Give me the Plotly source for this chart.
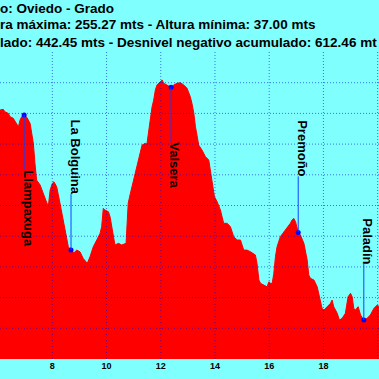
import plotly.graph_objects as go

# ---- data (distance in km, elevation in m) ----
dist_km = [5.95, 6.07, 6.19, 6.25, 6.38, 6.44, 6.56, 6.69, 6.75, 6.81, 6.87, 6.96, 7.06, 7.18,
           7.24, 7.30, 7.36, 7.42, 7.55, 7.67, 7.79, 7.85, 7.92, 8.00, 8.06, 8.16, 8.26, 8.35,
           8.47, 8.59, 8.69, 8.80, 8.90, 9.02, 9.14, 9.29, 9.39, 9.51, 9.64, 9.76, 9.82, 9.88,
           9.94, 10.07, 10.13, 10.25, 10.31, 10.44, 10.56, 10.72, 10.76, 10.80, 10.88, 11.00,
           11.13, 11.25, 11.31, 11.43, 11.49, 11.56, 11.62, 11.68, 11.74, 11.80, 11.86, 11.99,
           12.05, 12.11, 12.23, 12.38, 12.48, 12.60, 12.72, 12.85, 12.97, 13.09, 13.15, 13.22,
           13.28, 13.34, 13.40, 13.52, 13.65, 13.77, 13.83, 13.89, 13.98, 14.08, 14.20, 14.32,
           14.45, 14.57, 14.69, 14.82, 14.94, 15.06, 15.18, 15.31, 15.49, 15.55, 15.62, 15.68,
           15.80, 15.92, 15.99, 16.05, 16.11, 16.17, 16.23, 16.29, 16.41, 16.54, 16.66, 16.78,
           16.84, 16.91, 16.97, 17.07, 17.15, 17.28, 17.40, 17.46, 17.52, 17.65, 17.77, 17.83,
           17.89, 17.95, 18.02, 18.14, 18.26, 18.32, 18.38, 18.51, 18.59, 18.69, 18.81, 18.91,
           19.00, 19.06, 19.12, 19.18, 19.28, 19.37, 19.49, 19.61, 19.73, 19.86, 19.98, 20.06,
           20.20]
elev_m = [228.0, 227.7, 228.3, 226.3, 225.0, 222.3, 221.0, 216.9, 214.1, 219.6, 222.3, 223.7,
          221.8, 216.9, 208.8, 200.6, 184.3, 170.7, 166.7, 159.9, 151.7, 149.0, 162.6, 168.0,
          169.3, 165.3, 154.4, 143.6, 130.0, 116.4, 113.7, 111.5, 113.7, 112.3, 106.9, 102.9,
          108.3, 116.4, 121.9, 127.3, 132.7, 147.7, 146.3, 144.9, 140.8, 124.6, 117.8, 119.2,
          117.8, 119.2, 138.0, 152.0, 159.9, 170.7, 181.6, 192.5, 199.2, 200.6, 200.0, 211.4,
          222.3, 230.4, 235.9, 244.0, 248.1, 250.8, 252.2, 249.5, 248.1, 246.2, 248.1, 249.5,
          250.0, 248.1, 245.4, 238.6, 233.2, 225.0, 214.1, 206.0, 199.2, 195.2, 189.7, 187.0,
          178.9, 170.7, 157.1, 153.1, 146.3, 135.5, 135.5, 132.7, 124.6, 121.9, 121.9, 113.7,
          113.7, 112.3, 109.7, 102.9, 89.3, 86.6, 85.2, 83.8, 87.9, 86.6, 86.6, 94.7, 108.3,
          116.4, 124.6, 128.6, 131.4, 135.5, 138.1, 139.5, 136.8, 128.1, 126.0, 119.2, 105.6,
          93.4, 90.7, 89.3, 83.8, 78.5, 73.0, 66.2, 64.9, 67.6, 70.3, 73.0, 67.6, 62.2, 56.7,
          58.1, 62.2, 75.7, 78.5, 75.7, 66.2, 64.9, 67.6, 60.8, 56.7, 58.1, 60.8, 66.2, 68.9,
          67.6, 66.0]

waypoint_names = ["Llampaxuga", "La Bolguina", "Valsera", "Premoño", "Paladín"]
waypoint_km = [6.96, 8.69, 12.38, 17.07, 19.49]
waypoint_elev = [223.7, 113.7, 246.2, 128.1, 56.7]

x_ticks = [8, 10, 12, 14, 16, 18, 20]
y_grid = [50, 75, 100, 125, 150, 175, 200, 225, 250]

# header lines, as far as they are visible in the (cropped) original
title_lines = [
    "o: Oviedo - Grado",
    "ra máxima: 255.27 mts - Altura mínima: 37.00 mts",
    "lado: 442.45 mts - Desnivel negativo acumulado: 612.46 mt",
]

# ---- figure ----
FONT = "Arial, Liberation Sans, sans-serif"
BG = "#80FFFF"
GRID = "rgba(0,0,220,0.55)"

fig = go.Figure()
fig.add_trace(go.Scatter(x=dist_km, y=elev_m, mode="lines",
                         line=dict(color="#FF0000", width=1),
                         fill="tozeroy", fillcolor="#FF0000", hoverinfo="skip"))
fig.add_trace(go.Scatter(x=waypoint_km, y=waypoint_elev, mode="markers",
                         marker=dict(color="#0000FF", size=5), hoverinfo="skip"))

# grid lines drawn above the filled profile
for xv in x_ticks:
    fig.add_shape(type="line", xref="x", yref="paper", x0=xv, x1=xv, y0=0, y1=1,
                  line=dict(color=GRID, width=1, dash="1px,2px"), layer="above")
for yv in y_grid:
    fig.add_shape(type="line", xref="paper", yref="y", x0=0, x1=1, y0=yv, y1=yv,
                  line=dict(color=GRID, width=1, dash="1px,2px"), layer="above")

# waypoint labels with leader lines
for name, xk, ye in zip(waypoint_names, waypoint_km, waypoint_elev):
    down = ye > 180
    fig.add_shape(type="line", xref="x", yref="y", ysizemode="pixel", yanchor=ye,
                  x0=xk, x1=xk, y0=0, y1=(-55 if down else 56),
                  line=dict(color="#1040FF", width=1), layer="above")
    fig.add_annotation(x=xk, y=ye, xref="x", yref="y", text=name, showarrow=False,
                       textangle=90, xanchor="center",
                       yanchor=("top" if down else "bottom"),
                       yshift=(-53 if down else 54), xshift=4,
                       font=dict(family=FONT, size=13, color="black", weight="bold"))

# header lines
title_y = [1.143, 1.088, 1.032]
for txt, yp in zip(title_lines, title_y):
    fig.add_annotation(x=0, y=yp, xref="paper", yref="paper", text=txt, showarrow=False,
                       xanchor="left", yanchor="middle", xshift=-2,
                       font=dict(family=FONT, size=13.5, color="black", weight="bold"))

fig.update_layout(
    width=379, height=379,
    margin=dict(l=0, r=0, t=52, b=20, pad=0),
    paper_bgcolor=BG, plot_bgcolor=BG,
    showlegend=False,
    xaxis=dict(range=[6.07, 20.05], tickvals=x_ticks, ticktext=[str(v) for v in x_ticks],
               showgrid=False, zeroline=False, showline=False, ticks="",
               automargin=False,
               tickfont=dict(family=FONT, size=9, color="black", weight="bold")),
    yaxis=dict(range=[25, 275], showgrid=False, zeroline=False, showline=False,
               showticklabels=False, ticks="", automargin=False),
)

fig.write_html("out.html", config={"displayModeBar": False},
               post_script="document.body.style.margin='0';")
